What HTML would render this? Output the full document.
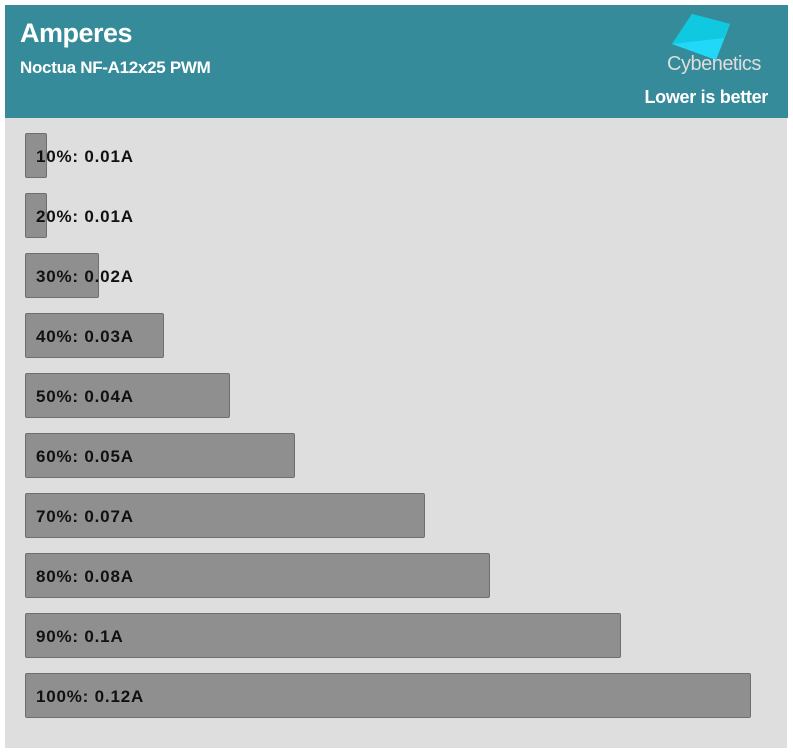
<!DOCTYPE html>
<html><head><style>
body{margin:0;width:793px;height:753px;background:#fff;position:relative;overflow:hidden;font-family:"Liberation Sans",sans-serif}
.hdr{position:absolute;left:5px;top:5px;width:783px;height:113px;background:#358b9a}
.panel{position:absolute;left:5px;top:118px;width:782px;height:630px;background:#dedede}
.t1{position:absolute;left:20px;top:18px;color:#fff;font-weight:bold;font-size:27px;letter-spacing:-0.5px}
.t2{position:absolute;left:20px;top:58px;color:#fff;font-weight:bold;font-size:17px;letter-spacing:-0.3px}
.lb{position:absolute;right:25px;top:87px;color:#fff;font-weight:bold;font-size:18px;letter-spacing:-0.3px}
.cy{position:absolute;left:667px;top:53px;color:#ddd;font-size:20px;letter-spacing:-0.5px}
.bar{position:absolute;left:25px;height:45px;background:#8f8f8f;border:1px solid #6f6f6f;box-sizing:border-box;border-radius:2px}
.lab{position:absolute;left:36px;font-weight:bold;font-size:17px;color:#111;letter-spacing:0.8px}
</style></head><body>
<div class="hdr"></div>
<div class="panel"></div>
<div class="t1">Amperes</div>
<div class="t2">Noctua NF-A12x25 PWM</div>
<svg style="position:absolute;left:668px;top:12px" width="66" height="50"><polygon points="4,32 24,2 62,12 48,48" fill="#22d8f8"/><polygon points="4,32 24,2 62,12 56,26" fill="#10c8e0"/></svg>
<div class="cy">Cybenetics</div>
<div class="lb">Lower is better</div>
<div class="bar" style="top:133px;width:22px"></div><div class="lab" style="top:147px">10%: 0.01A</div>
<div class="bar" style="top:193px;width:22px"></div><div class="lab" style="top:207px">20%: 0.01A</div>
<div class="bar" style="top:253px;width:74px"></div><div class="lab" style="top:267px">30%: 0.02A</div>
<div class="bar" style="top:313px;width:139px"></div><div class="lab" style="top:327px">40%: 0.03A</div>
<div class="bar" style="top:373px;width:205px"></div><div class="lab" style="top:387px">50%: 0.04A</div>
<div class="bar" style="top:433px;width:270px"></div><div class="lab" style="top:447px">60%: 0.05A</div>
<div class="bar" style="top:493px;width:400px"></div><div class="lab" style="top:507px">70%: 0.07A</div>
<div class="bar" style="top:553px;width:465px"></div><div class="lab" style="top:567px">80%: 0.08A</div>
<div class="bar" style="top:613px;width:596px"></div><div class="lab" style="top:627px">90%: 0.1A</div>
<div class="bar" style="top:673px;width:726px"></div><div class="lab" style="top:687px">100%: 0.12A</div>
</body></html>
